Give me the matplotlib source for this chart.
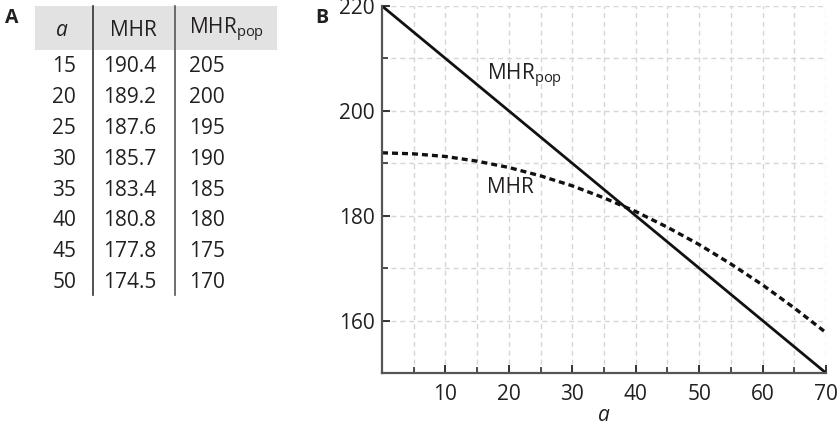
import matplotlib
matplotlib.use("Agg")
import matplotlib.pyplot as plt
from matplotlib.patches import Rectangle

plt.rcParams['font.family'] = ['Open Sans', 'DejaVu Sans']

# ---- data ----
table_ages = ["15", "20", "25", "30", "35", "40", "45", "50"]
table_mhr = ["190.4", "189.2", "187.6", "185.7", "183.4", "180.8", "177.8", "174.5"]
table_mhr_pop = ["205", "200", "195", "190", "185", "180", "175", "170"]

curve_ages = [0, 5, 10, 15, 20, 25, 30, 35, 40, 45, 50, 55, 60, 65, 70]
curve_mhr = [192.0, 191.8, 191.3, 190.4, 189.2, 187.6, 185.7, 183.4, 180.8,
             177.8, 174.5, 170.8, 166.8, 162.4, 157.7]
pop_ages = [0, 70]
pop_mhr = [220, 150]

W, H = 838, 429
fig = plt.figure(figsize=(W / 100, H / 100), dpi=100)

# ---- panel A: table (pixel coordinates) ----
tax = fig.add_axes([0, 0, 1, 1])
tax.set_xlim(0, W)
tax.set_ylim(H, 0)
tax.axis('off')
fs = 15
txtc = '#231f20'
tax.add_patch(Rectangle((35, 6), 242, 44, facecolor='#e2e2e3', edgecolor='none'))
tax.plot([93, 93], [6, 295], color='#333333', lw=1.2)
tax.plot([175, 175], [6, 295], color='#555555', lw=1.2)
tax.text(12, 18, 'A', fontsize=14, fontweight='bold', ha='center', va='center', color=txtc)
tax.text(322, 18, 'B', fontsize=14, fontweight='bold', ha='center', va='center', color=txtc)
tax.text(62, 30, 'a', fontsize=fs, style='italic', ha='center', va='center', color=txtc)
tax.text(133, 30, 'MHR', fontsize=fs, ha='center', va='center', color=txtc)
tax.text(227, 30, r'MHR$_{\mathregular{pop}}$', fontsize=fs, ha='center', va='center', color=txtc)
row_y0, row_dy = 67, 30.8
for i in range(len(table_ages)):
    y = row_y0 + i * row_dy
    tax.text(76, y, table_ages[i], fontsize=fs, ha='right', va='center', color=txtc)
    tax.text(103, y, table_mhr[i], fontsize=fs, ha='left', va='center', color=txtc)
    tax.text(189, y, table_mhr_pop[i], fontsize=fs, ha='left', va='center', color=txtc)

# ---- panel B: plot ----
x0, x1, ytop, ybot = 382, 826, 6, 373
ax = fig.add_axes([x0 / W, (H - ybot) / H, (x1 - x0) / W, (ybot - ytop) / H])
ax.set_xlim(0, 70)
ax.set_ylim(150, 220)
ax.patch.set_alpha(0)

for xv in range(5, 71, 5):
    ax.axvline(xv, color='#d6d6d6', lw=1.0, ls=(0, (3.6, 2.8)), zorder=0)
for yv in range(160, 221, 10):
    ax.axhline(yv, color='#d6d6d6', lw=1.0, ls=(0, (3.6, 2.8)), zorder=0)

ax.plot(pop_ages, pop_mhr, color='#111111', lw=2.0, solid_capstyle='butt')
ax.plot(curve_ages, curve_mhr, color='#111111', lw=2.4, ls=(0, (1.8, 1.2)))

ax.text(22.5, 206.6, r'MHR$_{\mathregular{pop}}$', fontsize=fs, ha='center', va='center', color=txtc)
ax.text(20.2, 185.3, 'MHR', fontsize=fs, ha='center', va='center', color=txtc)

for s in ['top', 'right']:
    ax.spines[s].set_visible(False)
for s in ['left', 'bottom']:
    ax.spines[s].set_color('#555555')
    ax.spines[s].set_linewidth(1.6)

ax.set_xticks(range(10, 71, 10))
ax.set_xticks(range(5, 71, 10), minor=True)
ax.set_yticks([160, 180, 200, 220])
ax.set_yticks([170, 190, 210], minor=True)
ax.tick_params(axis='both', which='major', direction='in', length=6, width=1.4,
               color='#333333', labelsize=fs, labelcolor=txtc)
ax.tick_params(axis='both', which='minor', direction='in', length=4, width=1.2, color='#333333')
ax.tick_params(axis='x', which='major', pad=8)
ax.tick_params(axis='y', which='major', pad=5)
ax.set_xlabel('a', fontsize=fs, style='italic', color=txtc, labelpad=0)

fig.savefig('out.png', dpi=100)
